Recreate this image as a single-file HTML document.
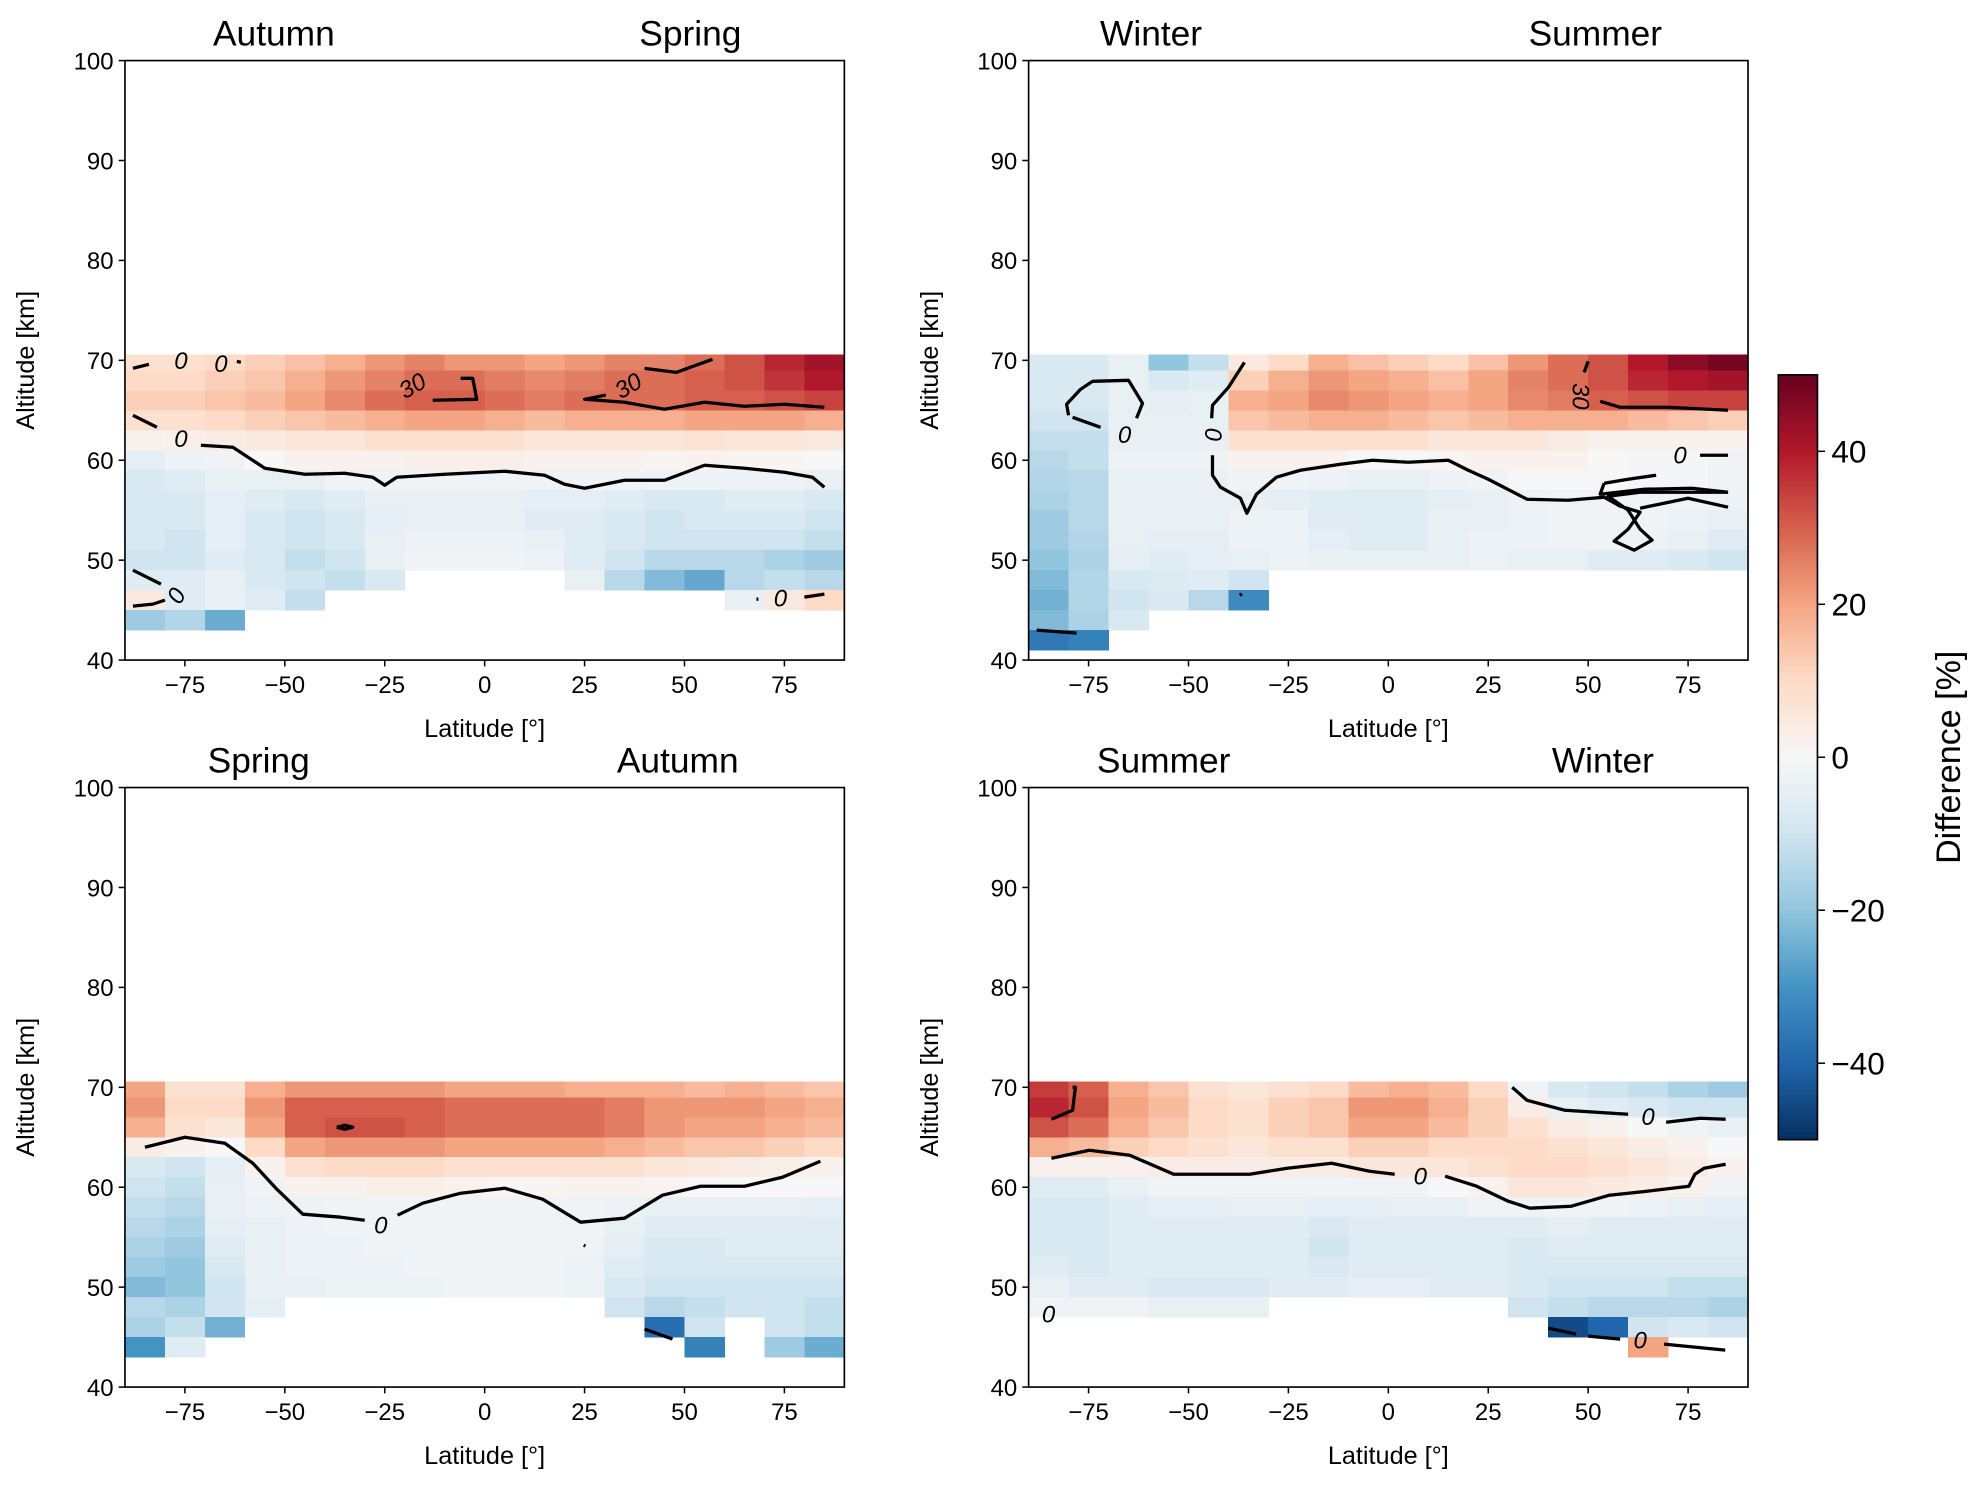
<!DOCTYPE html>
<html><head><meta charset="utf-8">
<style>
html,body{margin:0;padding:0;background:#fff;}
svg{display:block;font-family:"Liberation Sans","DejaVu Sans",sans-serif;}
</style></head>
<body>
<svg id="fig" width="1979" height="1486" viewBox="0 0 1568 1177.4" preserveAspectRatio="none" xmlns="http://www.w3.org/2000/svg"></svg>
<script>
// ---- data ----
const latCenters = [-85,-75,-65,-55,-45,-35,-25,-15,-5,5,15,25,35,45,55,65,75,85];
const altRows = [70,68,66,64,62,60,58,56,54,52,50,48,46,44,42];
const xTicks = [-75,-50,-25,0,25,50,75];
const yTicks = [40,50,60,70,80,90,100];
const cbTicks = [40,20,0,-20,-40];
const cbTickLabels = ["40","20","0","\u221220","\u221240"];
const n = null;
const panel1 = [
[8,8,10,12,15,18,22,25,22,22,20,22,25,25,28,32,38,42],
[10,10,12,14,18,22,25,28,28,26,24,26,28,28,30,32,36,40],
[12,12,14,16,20,24,28,30,30,28,26,28,28,28,30,30,32,34],
[8,8,10,12,14,16,18,20,20,18,16,18,18,18,20,20,20,18],
[2,3,4,5,6,6,8,8,8,8,6,6,6,6,7,6,6,5],
[-5,-3,-2,0,2,2,2,3,3,3,2,2,2,1,2,1,1,0],
[-8,-6,-4,-4,-4,-2,-2,-2,-2,-2,-2,-2,-2,-3,-3,-3,-3,-4],
[-8,-8,-5,-6,-8,-6,-4,-4,-4,-4,-5,-5,-6,-8,-8,-6,-6,-8],
[-8,-8,-5,-8,-10,-8,-5,-4,-4,-4,-6,-6,-8,-10,-8,-8,-8,-10],
[-8,-10,-5,-8,-10,-8,-4,-3,-3,-3,-4,-6,-8,-10,-10,-10,-10,-12],
[-10,-10,-6,-8,-12,-10,-4,-2,-2,-2,-3,-6,-10,-14,-14,-14,-16,-18],
[-6,-6,-4,-8,-10,-12,-8,n,n,n,n,-4,-14,-22,-26,-14,-12,-14],
[5,-6,-4,-6,-12,n,n,n,n,n,n,n,n,n,n,-4,5,10],
[-18,-15,-25,n,n,n,n,n,n,n,n,n,n,n,n,n,n,n],
[n,n,n,n,n,n,n,n,n,n,n,n,n,n,n,n,n,n]];
const panel2 = [
[-8,-8,-4,-20,-12,5,10,18,15,12,10,15,22,28,32,40,45,48],
[-8,-8,-4,-8,-6,12,18,22,20,18,15,20,25,28,32,38,40,42],
[-8,-8,-4,-5,-4,18,20,24,22,20,18,20,24,26,30,32,34,34],
[-10,-10,-4,-4,-4,14,16,18,18,16,14,16,18,18,18,16,14,12],
[-12,-12,-4,-4,-4,8,8,8,8,8,6,6,6,4,2,2,2,2],
[-14,-12,-3,-3,-3,2,2,2,0,0,1,2,2,2,0,-1,-1,-2],
[-15,-14,-4,-4,-4,-2,-2,-3,-4,-4,-3,-2,0,0,0,-1,-1,-2],
[-16,-14,-4,-4,-4,-4,-5,-6,-6,-6,-5,-4,-3,-2,-2,-2,-2,-3],
[-18,-14,-4,-4,-4,-3,-3,-6,-6,-6,-4,-4,-3,-2,-2,-2,-3,-4],
[-18,-15,-4,-5,-5,-3,-3,-5,-6,-6,-4,-3,-3,-2,-2,-3,-4,-6],
[-20,-16,-5,-6,-5,-4,-3,-4,-4,-4,-4,-3,-4,-4,-6,-6,-8,-10],
[-22,-15,-8,-7,-6,-10,n,n,n,n,n,n,n,n,n,n,n,n],
[-24,-15,-10,-8,-14,-32,n,n,n,n,n,n,n,n,n,n,n,n],
[-22,-16,-8,n,n,n,n,n,n,n,n,n,n,n,n,n,n,n],
[-36,-34,n,n,n,n,n,n,n,n,n,n,n,n,n,n,n,n]];
const panel3 = [
[20,8,8,18,22,22,22,22,20,20,20,18,18,18,16,18,16,14],
[22,10,10,22,30,30,30,30,28,28,28,28,26,22,22,22,20,18],
[18,8,6,20,30,32,32,30,28,28,28,28,26,22,20,20,18,16],
[4,2,0,10,20,22,22,22,20,20,20,20,18,16,14,14,12,10],
[-8,-10,-5,2,8,10,10,10,8,8,8,8,8,6,5,4,3,2],
[-10,-12,-4,-2,2,2,3,3,2,1,1,2,2,1,0,0,0,0],
[-12,-14,-4,-3,-3,-2,-2,-2,-2,-2,-2,-2,-3,-4,-4,-4,-4,-5],
[-14,-16,-5,-4,-3,-2,-2,-2,-2,-2,-2,-2,-4,-6,-6,-6,-6,-6],
[-16,-18,-6,-4,-3,-3,-2,-2,-2,-2,-2,-2,-5,-8,-8,-6,-6,-6],
[-18,-20,-8,-4,-3,-3,-3,-2,-2,-2,-2,-3,-6,-8,-8,-8,-8,-8],
[-22,-20,-10,-4,-4,-3,-3,-3,-2,-2,-2,-3,-8,-10,-10,-10,-10,-10],
[-14,-16,-10,-5,n,n,n,n,n,n,n,n,-10,-14,-12,-10,-10,-12],
[-16,-12,-24,n,n,n,n,n,n,n,n,n,n,-38,-10,n,-10,-12],
[-30,-6,n,n,n,n,n,n,n,n,n,n,n,n,-34,n,-18,-25],
[n,n,n,n,n,n,n,n,n,n,n,n,n,n,n,n,n,n]];
const panel4 = [
[35,30,18,14,8,6,8,10,16,18,16,10,-2,-8,-10,-12,-16,-18],
[38,32,20,16,10,8,12,14,22,22,18,12,4,-4,-6,-8,-10,-10],
[32,28,18,14,10,8,12,14,20,20,16,12,8,4,2,0,-2,-4],
[18,16,12,10,8,6,8,8,12,12,10,10,10,8,6,4,2,0],
[2,2,2,4,4,4,4,4,6,6,6,8,10,10,8,6,4,2],
[-6,-6,-4,-2,-2,-2,-2,-2,-2,-2,0,2,6,6,5,4,2,-2],
[-8,-8,-6,-5,-5,-4,-4,-5,-5,-4,-4,-2,-2,-2,-2,-3,-4,-5],
[-8,-8,-6,-6,-6,-6,-6,-8,-6,-6,-6,-6,-6,-5,-6,-6,-6,-6],
[-8,-8,-6,-6,-6,-6,-6,-10,-6,-6,-6,-6,-8,-6,-6,-6,-6,-6],
[-6,-8,-6,-6,-6,-6,-6,-8,-6,-6,-6,-6,-8,-8,-8,-8,-8,-8],
[-4,-6,-6,-8,-8,-8,-6,-6,-5,-5,-6,-6,-8,-10,-10,-10,-12,-12],
[-2,-2,-2,-4,-4,-4,n,n,n,n,n,n,-10,-12,-14,-14,-14,-16],
[n,n,n,n,n,n,n,n,n,n,n,n,n,-45,-40,-10,-8,-10],
[n,n,n,n,n,n,n,n,n,n,n,n,n,n,n,20,n,n],
[n,n,n,n,n,n,n,n,n,n,n,n,n,n,n,n,n,n]];
// contours: arrays of [lat, alt]
const contours1 = [
[[-88,69.2],[-84,69.6]],
[[-62,69.9],[-61,69.8]],
[[-88,64.5],[-82,63.3]],
[[-71,61.5],[-63,61.3],[-55,59.2],[-45,58.6],[-35,58.7],[-28,58.3],[-25,57.5],[-22,58.3],[-10,58.6],[5,58.9],[15,58.5],[20,57.6],[25,57.2],[35,58],[45,58],[55,59.5],[65,59.2],[75,58.8],[82,58.3],[85,57.3]],
[[-13,66],[-2,66.1],[-2.5,67.2],[-3,68.2],[-6,68.2]],
[[25,66.1],[30,66.5],[25,66.1],[35,65.8],[45,65.1],[55,65.8],[65,65.4],[75,65.6],[85,65.3]],
[[40,69.2],[48,68.8],[57,70.1]],
[[-88,49],[-81,47.6]],
[[-88,45.4],[-83,45.6],[-80,46]],
[[68,46.1],[68.5,46.1]],[[80,46.3],[85,46.6]]];
const labels1 = [[-76,69.9,"0",0],[-66,69.6,"0",0],[-76,62.1,"0",0],[-18,67.4,"30",-30],[36,67.4,"30",-30],[-77,46.4,"0",-60],[74,46.1,"0",0]];
const contours2 = [
[[-80,64.5],[-80.5,65.6],[-77,67.1],[-74,67.9],[-65,68],[-61.5,65.7],[-63,64.2]],
[[-79,64.3],[-72,63.3]],
[[-36,69.8],[-40,67.3],[-44,65.5],[-44.2,64.2]],
[[-44,60.5],[-44,58.5],[-42,57.3],[-37,56.2],[-35.4,54.7],[-33,56.6],[-28,58.3],[-22,59],[-12,59.6],[-4,60],[5,59.8],[15,60],[20,59],[25,58.1],[34.7,56.1],[45,56],[54,56.3],[58,55.4],[63,54.8],[60,53.1],[56.5,51.9],[61.5,51],[66,52],[63,53.1],[60,55],[55,56.4],[63,56.8],[75,56.8],[85,56.8]],
[[54,57.7],[60,58.1],[67,58.5]],
[[54,57.7],[53,56.6],[64,57.1],[76,57.2],[85,56.8]],
[[63,55.2],[75,56.2],[85,55.3]],
[[78,60.5],[85,60.5]],
[[50,69.9],[49,68.8]],
[[53,65.9],[58,65.3],[70,65.3],[85,65]],
[[-37.2,46.5],[-36.6,46.6]],
[[-88,43],[-78,42.7]]];
const labels2 = [[-66,62.5,"0",0],[-44,62.6,"0",90],[48,66.4,"30",90],[73,60.4,"0",0]];
const contours3 = [
[[-85,64],[-75,65],[-65,64.4],[-58,62.4],[-52,59.8],[-45.5,57.3],[-36,57],[-30,56.7]],
[[-21.8,57.2],[-15.5,58.4],[-6,59.4],[5,59.9],[14.5,58.8],[24,56.5],[35,56.9],[44.5,59.2],[54,60.1],[65,60.1],[74.5,61],[84,62.6]],
[[-37,66],[-35,66.2],[-33,66],[-35,65.8],[-37,66]],
[[24.8,54.2],[25.2,54.1]],
[[40,45.8],[47,44.8]]];
const labels3 = [[-26,56.1,"0",0]];
const contours4 = [
[[-84.3,62.9],[-74.8,63.7],[-64.7,63.2],[-53.7,61.3],[-34.7,61.3],[-25.3,61.9],[-14.2,62.4],[-4.7,61.6],[1.6,61.3]],
[[14.2,61.1],[22.1,60.1],[30,58.6],[35.4,57.9],[45.8,58.1],[55.3,59.2],[64.7,59.6],[75.2,60.1],[76.7,61.3],[79,61.9],[84.4,62.3]],
[[31,70],[34.7,68.7],[44.2,67.7],[60,67.3]],
[[69.5,66.5],[78,66.9],[84.4,66.8]],
[[-84.3,66.8],[-79,67.7],[-78.3,70],[-79,70]],
[[40,45.9],[47,45.3]],[[50,45.1],[58,44.8]],
[[69,44.3],[84.3,43.7]]];
const labels4 = [[8,61,"0",0],[65,67,"0",0],[-85,47.2,"0",0],[63,44.6,"0",0]];

const panels = [
 {x0:99,y0:48,data:panel1,contours:contours1,labels:labels1,t:["Autumn","Spring"],tx:[217,547],name:"top-left"},
 {x0:815,y0:48,data:panel2,contours:contours2,labels:labels2,t:["Winter","Summer"],tx:[912,1264],name:"top-right"},
 {x0:99,y0:624,data:panel3,contours:contours3,labels:labels3,t:["Spring","Autumn"],tx:[205,537],name:"bottom-left"},
 {x0:815,y0:624,data:panel4,contours:contours4,labels:labels4,t:["Summer","Winter"],tx:[922,1270],name:"bottom-right"}];

// ---- rendering ----
const NS="http://www.w3.org/2000/svg";
const svg=document.getElementById('fig');
const W=570,H=475;
const stops=[[5,48,97],[33,102,172],[67,147,195],[146,197,222],[209,229,240],[247,247,247],[253,219,199],[244,165,130],[214,96,77],[178,24,43],[103,0,31]];
function cmap(v){let t=(v+50)/100;t=Math.max(0,Math.min(1,t))*10;let i=Math.min(9,Math.floor(t)),f=t-i;
 const a=stops[i],b=stops[i+1];return `rgb(${a.map((c,k)=>Math.round(c+(b[k]-c)*f)).join(',')})`;}
function mk(tag,attrs,parent){const e=document.createElementNS(NS,tag);for(const k in attrs)e.setAttribute(k,attrs[k]);(parent||svg).appendChild(e);return e;}

panels.forEach(p=>{
 const X=lat=>p.x0+(lat+90)*W/180;
 const Y=alt=>p.y0+H-(alt-40)*H/60;
 const g=mk('g',{});
 
 
 const hm=mk('g',{'shape-rendering':'crispEdges'},g);
 
 
 p.data.forEach((row,ri)=>{
  const a=altRows[ri];const top=ri===0?70.6:a+1,bot=a-1;
  row.forEach((v,ci)=>{ if(v===null)return;
   const lat=latCenters[ci];
   const r=mk('rect',{x:X(lat-5),y:Y(top),width:X(lat+5)-X(lat-5)+0.3,height:Y(bot)-Y(top)+0.3,fill:cmap(v)},hm);
   
   
  });
 });
 p.contours.forEach(c=>{
  const pl=mk('polyline',{points:c.map(q=>X(q[0])+','+Y(q[1])).join(' '),fill:'none',stroke:'#000','stroke-width':2.6,'stroke-linejoin':'round'},g);
  
  
 });
 p.labels.forEach(l=>{
  const t=mk('text',{x:X(l[0]),y:Y(l[1]),'font-size':19,'text-anchor':'middle','dominant-baseline':'central','font-style':'italic',transform:`rotate(${l[3]} ${X(l[0])} ${Y(l[1])})`},g);
  t.textContent=l[2];
  
  
 });
 const fr=mk('rect',{x:p.x0,y:p.y0,width:W,height:H,fill:'none',stroke:'#000','stroke-width':1.3},g);
 
 
 xTicks.forEach(v=>{
  mk('line',{x1:X(v),x2:X(v),y1:p.y0+H,y2:p.y0+H+5,stroke:'#000','stroke-width':1.2},g);
  const t=mk('text',{x:X(v),y:p.y0+H+26,'font-size':19,'text-anchor':'middle'},g);
  t.textContent=v<0?'\u2212'+(-v):String(v);
  
  
 });
 yTicks.forEach(v=>{
  mk('line',{x1:p.x0-5,x2:p.x0,y1:Y(v),y2:Y(v),stroke:'#000','stroke-width':1.2},g);
  const t=mk('text',{x:p.x0-9,y:Y(v)+7,'font-size':19,'text-anchor':'end'},g);
  t.textContent=String(v);
  
  
 });
 const xl=mk('text',{x:p.x0+W/2,y:p.y0+H+61,'font-size':20,'text-anchor':'middle'},g);
 xl.textContent='Latitude [°]';
 
 
 const yl=mk('text',{x:0,y:0,'font-size':20,'text-anchor':'middle',transform:`translate(${p.x0-72},${p.y0+H/2}) rotate(-90)`},g);
 yl.textContent='Altitude [km]';
 
 
 p.t.forEach((s,i)=>{
  const t=mk('text',{x:p.tx[i],y:p.y0-12,'font-size':28,'text-anchor':'middle'},g);
  t.textContent=s;
  
  
 });
});

// colorbar
const cb=mk('g',{});


const cbX=1409,cbW=31,cbTop=297,cbH=606;
const CY=v=>cbTop+(50-v)/100*cbH;
for(let i=0;i<200;i++){const v=50-i*0.5;
 mk('rect',{x:cbX,y:CY(v),width:cbW,height:cbH/200+0.5,fill:cmap(v-0.25),'shape-rendering':'crispEdges'},cb);}
mk('rect',{x:cbX,y:cbTop,width:cbW,height:cbH,fill:'none',stroke:'#000','stroke-width':1.3},cb);
cbTicks.forEach((v,i)=>{
 mk('line',{x1:cbX+cbW,x2:cbX+cbW+6,y1:CY(v),y2:CY(v),stroke:'#000','stroke-width':1.2},cb);
 const t=mk('text',{x:cbX+cbW+11,y:CY(v)+9,'font-size':25},cb);
 t.textContent=cbTickLabels[i];
 
 
});
const cl=mk('text',{x:0,y:0,'font-size':27,'text-anchor':'middle',transform:`translate(1553,${cbTop+cbH/2}) rotate(-90)`},cb);
cl.textContent='Difference [%]';


</script>
</body></html>
